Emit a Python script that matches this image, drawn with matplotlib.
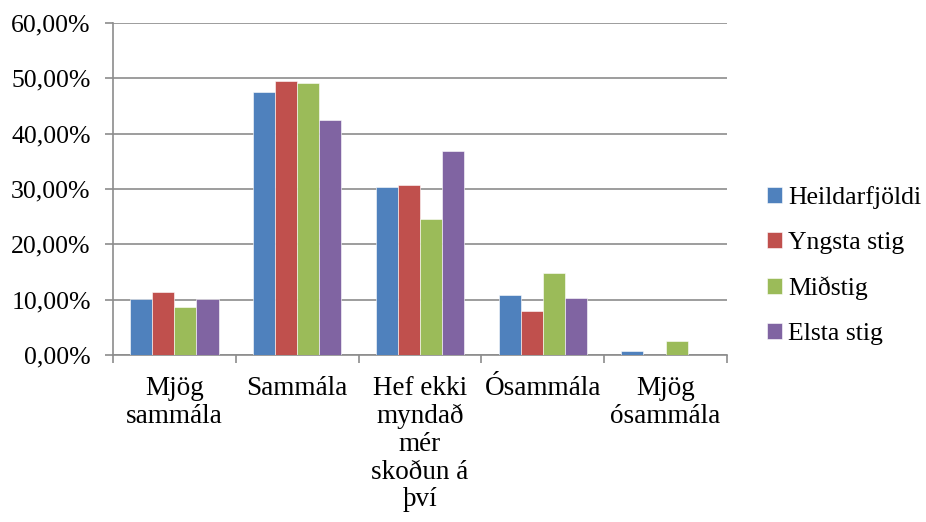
import numpy as np
import matplotlib
matplotlib.use("Agg")
import matplotlib.pyplot as plt
from matplotlib.ticker import FuncFormatter

categories = ["Mjög\nsammála", "Sammála", "Hef ekki\nmyndað\nmér\nskoðun á\nþví", "Ósammála", "Mjög\nósammála"]
series_names = ["Heildarfjöldi", "Yngsta stig", "Miðstig", "Elsta stig"]
heildarfjoldi = [10.2, 47.6, 30.3, 10.8, 0.8]
yngsta_stig = [11.3, 49.6, 30.8, 8.0, 0.0]
midstig = [8.6, 49.1, 24.5, 14.9, 2.6]
elsta_stig = [10.2, 42.4, 36.8, 10.3, 0.0]
colors = ["#4F81BD", "#C0504D", "#9BBB59", "#8064A2"]

plt.rcParams['font.family'] = ['Liberation Serif', 'DejaVu Serif']

fig = plt.figure(figsize=(9.26, 5.22), dpi=100)
ax = fig.add_axes([0.122, 0.320, 0.663, 0.636])

x = np.arange(len(categories))
w = 0.18
all_series = [heildarfjoldi, yngsta_stig, midstig, elsta_stig]
for i, vals in enumerate(all_series):
    ax.bar(x + (i - 1.5) * w, vals, w, color=colors[i], label=series_names[i],
           edgecolor="white", linewidth=0.4, zorder=3)

ax.set_xlim(-0.5, len(categories) - 0.5)
ax.set_ylim(0, 60)
ax.set_yticks(np.arange(0, 61, 10))
ax.yaxis.set_major_formatter(FuncFormatter(lambda v, p: f"{v:.2f}%".replace(".", ",")))
ax.grid(axis="y", color="#8c8c8c", linewidth=1.2, zorder=0)

# category boundaries carry the x ticks
ax.set_xticks(np.arange(-0.5, len(categories), 1.0))
ax.set_xticklabels([])
ax.set_xticks(x, minor=True)
ax.set_xticklabels(categories, minor=True, fontsize=19.5, linespacing=1.15, va="top")
ax.tick_params(axis="x", which="minor", length=0, pad=15)
ax.tick_params(axis="x", which="major", length=6, color="#8c8c8c", width=1.2)
ax.tick_params(axis="y", length=6, color="#8c8c8c", width=1.2, labelsize=18.5, pad=10)

for s in ["top", "right"]:
    ax.spines[s].set_visible(False)
for s in ["left", "bottom"]:
    ax.spines[s].set_color("#8c8c8c")
    ax.spines[s].set_linewidth(1.2)

ax.legend(loc="center left", bbox_to_anchor=(1.065, 0.27), frameon=False, fontsize=18.5,
          handlelength=0.58, handleheight=0.58, handletextpad=0.25, labelspacing=0.88,
          borderpad=0, borderaxespad=0)

fig.savefig("out.png", dpi=100)
